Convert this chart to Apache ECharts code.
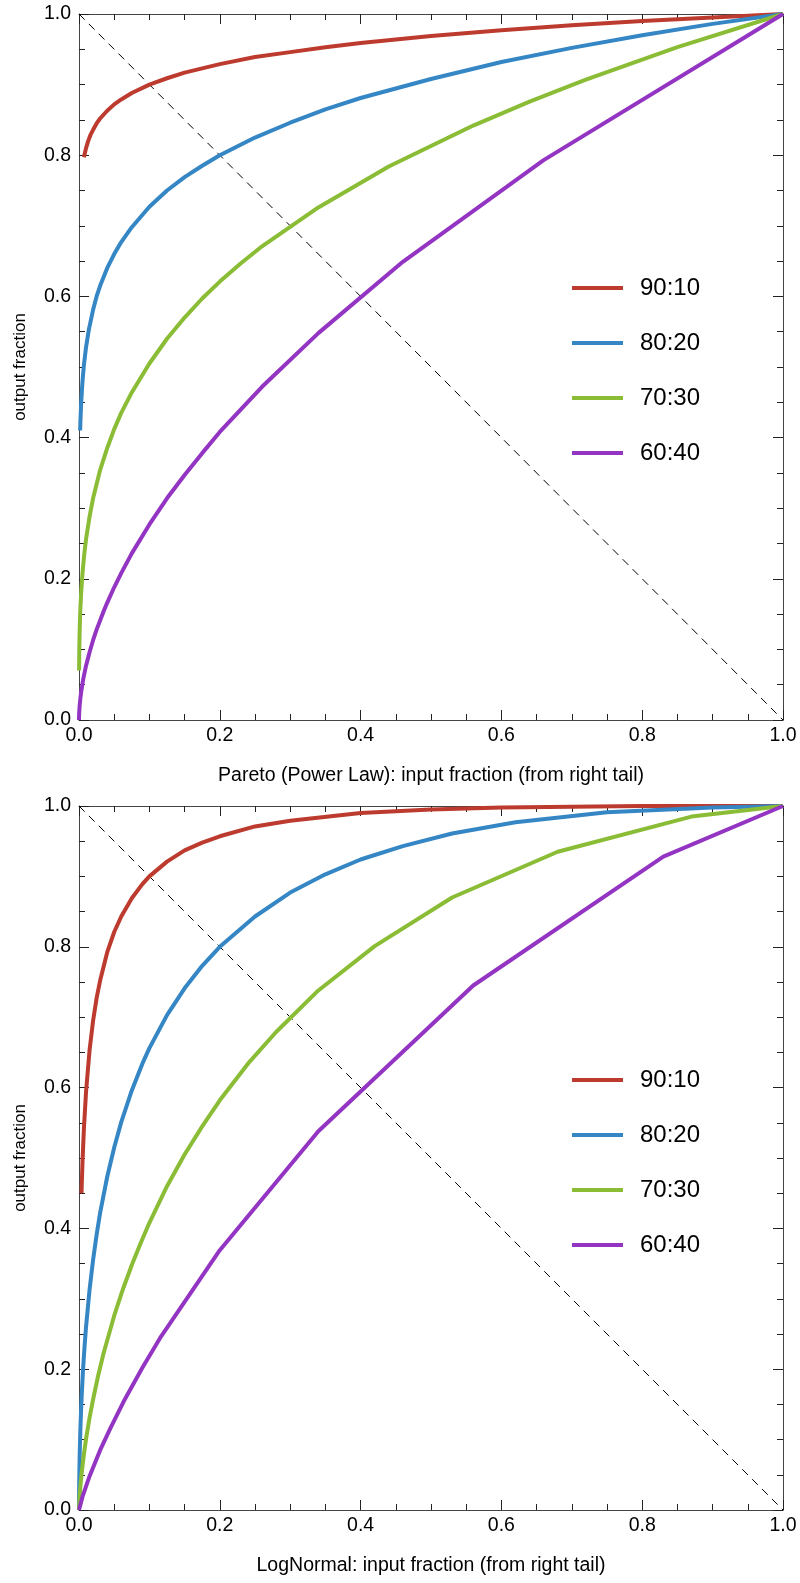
<!DOCTYPE html>
<html>
<head>
<meta charset="utf-8">
<script src="https://cdn.jsdelivr.net/npm/echarts@6/dist/echarts.min.js"></script>
<style>
  html, body { margin: 0; padding: 0; background: #fff; }
  #chart { width: 800px; height: 1583px; }
</style>
</head>
<body>
<div id="chart"></div>
<script>
// series names + colours
const names = ["90:10", "80:20", "70:30", "60:40"];
const colors = ["#BD3B2E", "#3586C4", "#8ABD35", "#9334C2"];

// Pareto (power law) curves, [input, output]
const pareto9010 = [[0.007,0.797],[0.01,0.81],[0.013,0.82],[0.016,0.828],[0.02,0.836],[0.025,0.845],[0.03,0.852],[0.04,0.863],[0.05,0.872],[0.06,0.879],[0.075,0.888],[0.1,0.9],[0.125,0.909],[0.15,0.917],[0.2,0.929],[0.25,0.939],[0.3,0.946],[0.35,0.953],[0.4,0.959],[0.5,0.969],[0.6,0.977],[0.7,0.984],[0.8,0.99],[0.9,0.995],[1,1]];
const pareto8020 = [[0.0016,0.41],[0.002,0.423],[0.003,0.447],[0.004,0.465],[0.005,0.48],[0.007,0.503],[0.01,0.528],[0.014,0.553],[0.02,0.581],[0.025,0.6],[0.03,0.615],[0.04,0.64],[0.05,0.66],[0.06,0.677],[0.075,0.698],[0.1,0.727],[0.125,0.75],[0.15,0.769],[0.175,0.785],[0.2,0.8],[0.25,0.825],[0.3,0.846],[0.35,0.865],[0.4,0.881],[0.5,0.908],[0.6,0.932],[0.7,0.952],[0.8,0.97],[0.9,0.986],[1,1]];
const pareto7030 = [[0.00013,0.07],[0.0003,0.09],[0.0005,0.105],[0.0008,0.121],[0.001,0.129],[0.0015,0.146],[0.002,0.159],[0.003,0.179],[0.005,0.208],[0.0075,0.235],[0.01,0.256],[0.015,0.288],[0.02,0.314],[0.03,0.354],[0.04,0.385],[0.05,0.412],[0.06,0.435],[0.075,0.464],[0.1,0.505],[0.125,0.54],[0.15,0.57],[0.175,0.597],[0.2,0.621],[0.23,0.647],[0.26,0.671],[0.34,0.726],[0.44,0.784],[0.56,0.842],[0.64,0.876],[0.72,0.907],[0.85,0.953],[1,1]];
const pareto6040 = [[0,0],[0.00005,0.004],[0.0001,0.006],[0.0003,0.011],[0.001,0.021],[0.002,0.031],[0.003,0.039],[0.006,0.058],[0.01,0.077],[0.015,0.096],[0.02,0.113],[0.025,0.128],[0.035,0.154],[0.04,0.166],[0.05,0.188],[0.06,0.208],[0.075,0.236],[0.1,0.277],[0.125,0.314],[0.15,0.347],[0.175,0.378],[0.2,0.408],[0.26,0.472],[0.34,0.548],[0.46,0.649],[0.66,0.793],[1,1]];

// LogNormal curves, bottom panel
const lognorm9010 = [[0.0036,0.45],[0.004,0.465],[0.005,0.495],[0.007,0.542],[0.01,0.594],[0.015,0.653],[0.02,0.695],[0.025,0.727],[0.03,0.752],[0.04,0.792],[0.05,0.821],[0.06,0.843],[0.075,0.869],[0.09,0.889],[0.1,0.9],[0.125,0.921],[0.15,0.937],[0.175,0.948],[0.2,0.957],[0.25,0.971],[0.3,0.979],[0.4,0.99],[0.5,0.995],[0.6,0.998],[0.7,0.999],[0.8,1],[1,1]];
const lognorm8020 = [[0,0],[0.00003,0.01],[0.0001,0.021],[0.0003,0.04],[0.001,0.08],[0.002,0.116],[0.003,0.143],[0.004,0.166],[0.006,0.204],[0.008,0.234],[0.01,0.26],[0.015,0.313],[0.02,0.355],[0.025,0.391],[0.03,0.422],[0.04,0.473],[0.05,0.515],[0.06,0.551],[0.075,0.596],[0.09,0.634],[0.1,0.656],[0.125,0.703],[0.15,0.741],[0.175,0.773],[0.2,0.8],[0.25,0.843],[0.3,0.877],[0.35,0.903],[0.4,0.924],[0.46,0.943],[0.53,0.961],[0.62,0.977],[0.75,0.991],[0.9,0.998],[1,1]];
const lognorm7030 = [[0,0],[0.0005,0.0125],[0.001,0.021],[0.002,0.034],[0.0035,0.05],[0.005,0.063],[0.0075,0.083],[0.01,0.101],[0.015,0.131],[0.02,0.157],[0.027,0.19],[0.035,0.223],[0.05,0.276],[0.0625,0.314],[0.075,0.348],[0.0875,0.379],[0.1,0.408],[0.125,0.46],[0.15,0.505],[0.175,0.545],[0.2,0.582],[0.24,0.634],[0.28,0.679],[0.34,0.738],[0.42,0.801],[0.53,0.87],[0.68,0.935],[0.87,0.985],[1,1]];
const lognorm6040 = [[0,0],[0.005,0.019],[0.015,0.048],[0.03,0.085],[0.045,0.117],[0.065,0.157],[0.09,0.202],[0.115,0.244],[0.2,0.369],[0.34,0.538],[0.56,0.745],[0.83,0.928],[1,1]];

const diagonal = [[0,1],[1,0]];

const panels = [
  { top: 14, height: 706, title: "Pareto (Power Law): input fraction (from right tail)", data: [pareto9010, pareto8020, pareto7030, pareto6040] },
  { top: 806, height: 704, title: "LogNormal: input fraction (from right tail)", data: [lognorm9010, lognorm8020, lognorm7030, lognorm6040] }
];

const font = "Liberation Sans, Arial, sans-serif";

// frame axis, ticks point inward on every side
function frameAxis(g, pos, labels, name) {
  const vertical = pos === "left" || pos === "right";
  return {
    gridIndex: g, type: "value", min: 0, max: 1, interval: 0.2, position: pos,
    name: name, nameLocation: "middle", nameGap: vertical ? 50 : 46,
    nameTextStyle: { fontSize: vertical ? 17 : 19.5, color: "#000", fontFamily: font },
    axisLine: { onZero: false, lineStyle: { color: "#444", width: 1 } },
    axisTick: { inside: true, length: 10, lineStyle: { color: "#222" } },
    minorTick: { show: true, splitNumber: 4, length: 6, lineStyle: { color: "#222" } },
    axisLabel: { show: labels, fontSize: 19.5, color: "#000", fontFamily: font, margin: vertical ? 8 : 6,
      formatter: v => v.toFixed(1) },
    splitLine: { show: false }
  };
}

let grid = [], xAxis = [], yAxis = [], series = [], legend = [];
panels.forEach((p, g) => {
  grid.push({ left: 79, top: p.top, width: 704, height: p.height });
  xAxis.push(frameAxis(g, "bottom", true, p.title));
  xAxis.push(frameAxis(g, "top", false));
  yAxis.push(frameAxis(g, "left", true, "output fraction"));
  yAxis.push(frameAxis(g, "right", false));

  series.push({
    type: "line", xAxisIndex: g * 2, yAxisIndex: g * 2, data: diagonal,
    symbol: "none", silent: true, z: 1,
    lineStyle: { color: "#000", width: 1, type: [8, 6] }
  });
  names.forEach((n, i) => {
    series.push({
      name: n, type: "line", xAxisIndex: g * 2, yAxisIndex: g * 2,
      data: p.data[i], symbol: "none", clip: false, z: 3,
      itemStyle: { color: colors[i] },
      lineStyle: { color: colors[i], width: 4 }
    });
  });

  legend.push({
    orient: "vertical", left: 567, top: p.top + 254,
    icon: "rect", itemWidth: 51, itemHeight: 4, itemGap: 25,
    textStyle: { fontSize: 24, lineHeight: 30, color: "#000", fontFamily: font, padding: [0, 0, 0, 12] },
    data: names
  });
});

const chart = echarts.init(document.getElementById("chart"));
chart.setOption({
  animation: false,
  backgroundColor: "#fff",
  grid: grid,
  xAxis: xAxis,
  yAxis: yAxis,
  legend: legend,
  series: series
});
</script>
</body>
</html>
